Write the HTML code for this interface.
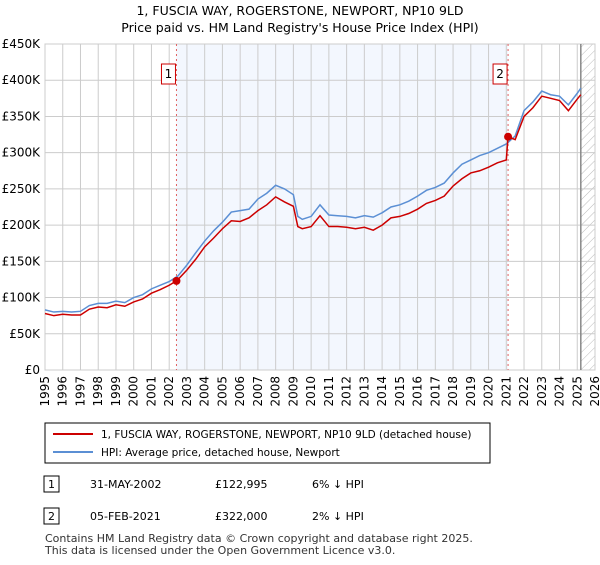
<!DOCTYPE html>
<html><head><meta charset="utf-8"><style>
body{margin:0;background:#fff;font-family:"Liberation Sans","DejaVu Sans",sans-serif;}
svg text{font-family:"DejaVu Sans","Liberation Sans",sans-serif;}
</style></head><body>
<svg id="c" width="600" height="560" xmlns="http://www.w3.org/2000/svg">
<defs><pattern id="hatch" width="6" height="6" patternUnits="userSpaceOnUse" patternTransform="rotate(45)"><line x1="0" y1="0" x2="0" y2="6" stroke="#bbb" stroke-width="1"/></pattern></defs>
<text x="300" y="15" text-anchor="middle" font-size="12.5">1, FUSCIA WAY, ROGERSTONE, NEWPORT, NP10 9LD</text>
<text x="300" y="32" text-anchor="middle" font-size="12.5">Price paid vs. HM Land Registry's House Price Index (HPI)</text>
<g id="grid"></g><g id="marks"></g>
<g>
<rect x="45" y="423" width="445" height="40" fill="#fff" stroke="#000" stroke-width="1"/>
<line x1="53" y1="434" x2="93" y2="434" stroke="#cc0000" stroke-width="2"/>
<text x="101" y="438" font-size="10.5">1, FUSCIA WAY, ROGERSTONE, NEWPORT, NP10 9LD (detached house)</text>
<line x1="53" y1="452" x2="93" y2="452" stroke="#5b8fd4" stroke-width="2"/>
<text x="101" y="456" font-size="10.5">HPI: Average price, detached house, Newport</text>
</g>
<g font-size="11">
<rect x="44" y="476" width="15" height="16" fill="#fff" stroke="#000"/><text x="51.5" y="488" text-anchor="middle">1</text>
<text x="90" y="488">31-MAY-2002</text><text x="215" y="488">£122,995</text><text x="312" y="488">6% ↓ HPI</text>
<rect x="44" y="508" width="15" height="16" fill="#fff" stroke="#000"/><text x="51.5" y="520" text-anchor="middle">2</text>
<text x="90" y="520">05-FEB-2021</text><text x="215" y="520">£322,000</text><text x="312" y="520">2% ↓ HPI</text>
</g>
<text x="45" y="542" font-size="11" fill="#333">Contains HM Land Registry data © Crown copyright and database right 2025.</text>
<text x="45" y="554" font-size="11" fill="#333">This data is licensed under the Open Government Licence v3.0.</text>
</svg>
<script>
const hpiYears=[1995,1995.5,1996,1996.5,1997,1997.5,1998,1998.5,1999,1999.5,2000,2000.5,2001,2001.5,2002,2002.5,2003,2003.5,2004,2004.5,2005,2005.5,2006,2006.5,2007,2007.5,2008,2008.5,2009,2009.25,2009.5,2010,2010.5,2011,2011.5,2012,2012.5,2013,2013.5,2014,2014.5,2015,2015.5,2016,2016.5,2017,2017.5,2018,2018.5,2019,2019.5,2020,2020.5,2021,2021.5,2022,2022.5,2023,2023.5,2024,2024.5,2025,2025.2];
const hpiValues=[83,80,81,80,81,89,92,92,95,93,100,104,112,117,122,130,145,162,178,192,204,218,220,222,236,244,255,250,242,212,208,212,228,214,213,212,210,213,211,217,225,228,233,240,248,252,258,272,284,290,296,300,306,312,323,358,370,385,380,378,366,382,389];
const priceYears=[1995,1995.5,1996,1996.5,1997,1997.5,1998,1998.5,1999,1999.5,2000,2000.5,2001,2001.5,2002,2002.41,2002.5,2003,2003.5,2004,2004.5,2005,2005.5,2006,2006.5,2007,2007.5,2008,2008.5,2009,2009.25,2009.5,2010,2010.5,2011,2011.5,2012,2012.5,2013,2013.5,2014,2014.5,2015,2015.5,2016,2016.5,2017,2017.5,2018,2018.5,2019,2019.5,2020,2020.5,2021,2021.1,2021.5,2022,2022.5,2023,2023.5,2024,2024.5,2025,2025.2];
const priceValues=[78,75,77,76,76,84,87,86,90,88,94,98,106,111,117,123,125,138,153,170,182,195,206,205,210,220,228,239,232,226,198,195,198,213,198,198,197,195,197,193,200,210,212,216,222,230,234,240,254,264,272,275,280,286,290,322,318,350,362,378,375,372,358,374,380];
const saleYears=[2002.41,2021.1];
const saleValues=[122.995,322];
const saleLabels=["1","2"];
const yTicks=[0,50,100,150,200,250,300,350,400,450];
const yTickLabels=["£0","£50K","£100K","£150K","£200K","£250K","£300K","£350K","£400K","£450K"];
const xTicks=[1995,1996,1997,1998,1999,2000,2001,2002,2003,2004,2005,2006,2007,2008,2009,2010,2011,2012,2013,2014,2015,2016,2017,2018,2019,2020,2021,2022,2023,2024,2025,2026];
const L=45,R=595,T=44,B=370,x0=1995,x1=2026,yMax=450;
const X=v=>L+(v-x0)/(x1-x0)*(R-L);
const Y=v=>B-v/yMax*(B-T);
const NS="http://www.w3.org/2000/svg";
function mk(p,t,a){const e=document.createElementNS(NS,t);for(const k in a)e.setAttribute(k,a[k]);p.appendChild(e);return e;}
const g=document.getElementById('grid'),m=document.getElementById('marks');
let sh=mk(g,'rect',{x:X(saleYears[0]),y:T,width:X(saleYears[1])-X(saleYears[0]),height:B-T,fill:'#eef3fd',opacity:0.7});


let ht=mk(g,'rect',{x:X(2025.2),y:T,width:R-X(2025.2),height:B-T,fill:'url(#hatch)'});


yTicks.forEach((v,i)=>{
 let l=mk(g,'line',{x1:L,x2:R,y1:Y(v),y2:Y(v),stroke:'#ccc'});
 
 
 let t=mk(g,'text',{x:L-5,y:Y(v)+4,'text-anchor':'end','font-size':12});t.textContent=yTickLabels[i];
 
 
});
xTicks.forEach(v=>{
 let l=mk(g,'line',{x1:X(v),x2:X(v),y1:T,y2:B,stroke:'#ccc'});
 
 
 let t=mk(g,'text',{x:0,y:0,'text-anchor':'end','font-size':12,transform:`translate(${X(v)+4},${B+6}) rotate(-90)`});t.textContent=v;
 
 
});
let bx=mk(g,'rect',{x:L,y:T,width:R-L,height:B-T,fill:'none',stroke:'#ccc'});


let vl=mk(g,'line',{x1:X(2025.2),x2:X(2025.2),y1:T,y2:B,stroke:'#888','stroke-width':1.5});


saleYears.forEach((yr,i)=>{
 let l=mk(m,'line',{x1:X(yr),x2:X(yr),y1:T,y2:B,stroke:'#e06060','stroke-dasharray':'2,3'});
 
 
 let r=mk(m,'rect',{x:X(yr)-15,y:64,width:14,height:20,fill:'#fff',stroke:'#cc0000'});
 
 
 let t=mk(m,'text',{x:X(yr)-8,y:78,'text-anchor':'middle','font-size':12});t.textContent=saleLabels[i];
 
 
});
let hp=mk(m,'polyline',{points:hpiYears.map((v,i)=>X(v)+','+Y(hpiValues[i])).join(' '),fill:'none',stroke:'#5b8fd4','stroke-width':1.5});


let pp=mk(m,'polyline',{points:priceYears.map((v,i)=>X(v)+','+Y(priceValues[i])).join(' '),fill:'none',stroke:'#cc0000','stroke-width':1.5});


saleYears.forEach((yr,i)=>{
 let c=mk(m,'circle',{cx:X(yr),cy:Y(saleValues[i]),r:4,fill:'#cc0000'});
 
 
});
</script>
</body></html>
